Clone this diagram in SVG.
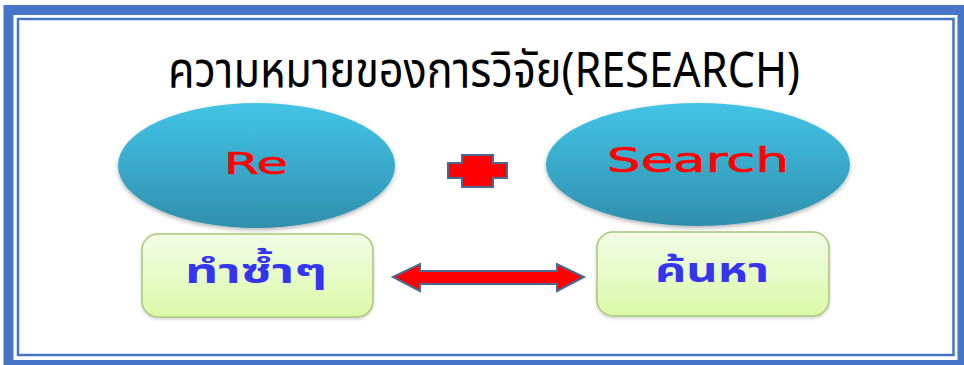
<svg xmlns="http://www.w3.org/2000/svg" width="964" height="365" viewBox="0 0 964 365">
<defs>
<linearGradient id="gEll" x1="0" y1="0" x2="0" y2="1">
<stop offset="0" stop-color="#44c4e6"/>
<stop offset="0.5" stop-color="#39aacb"/>
<stop offset="1" stop-color="#2f8fab"/>
</linearGradient>
<linearGradient id="gBox" x1="0" y1="0" x2="0" y2="1">
<stop offset="0" stop-color="#f3fde6"/>
<stop offset="1" stop-color="#daf9a8"/>
</linearGradient>
<filter id="shadow" x="-10%" y="-10%" width="120%" height="130%">
<feDropShadow dx="0" dy="2" stdDeviation="2" flood-color="#000" flood-opacity="0.3"/>
</filter>
<filter id="bshadow" x="-10%" y="-10%" width="120%" height="130%">
<feDropShadow dx="0" dy="1.5" stdDeviation="1.5" flood-color="#000" flood-opacity="0.2"/>
</filter>
</defs>
<style>
.ell{fill:url(#gEll);filter:url(#shadow)}
.box{fill:url(#gBox);stroke:#a9c77a;stroke-width:1.5;filter:url(#bshadow)}
.eng{font-family:"DejaVu Sans","Liberation Sans",sans-serif;fill:#ff0000;stroke:#ff0000;stroke-width:0.6;text-anchor:middle}
.thai{font-family:"Noto Sans Thai","Noto Sans","DejaVu Sans",sans-serif;font-weight:bold;fill:#3535f0;text-anchor:middle}
.title{font-family:"Noto Sans Thai","Noto Sans","Open Sans",sans-serif;fill:#000;text-anchor:middle}
.red{fill:#ff0000;stroke:#4a6890;stroke-width:2}
</style>
<rect width="964" height="365" fill="#fff"/>
<g id="frame">
<rect x="8.5" y="10" width="954" height="355" fill="none" stroke="#4674c6" stroke-width="10"/>
<rect x="18" y="19" width="935.5" height="336" fill="none" stroke="#4674c6" stroke-width="2.5"/>
</g>
<g id="title">
<text class="title" x="484" y="87" font-size="50" textLength="632" lengthAdjust="spacingAndGlyphs">ความหมายของการวิจัย(RESEARCH)</text>
</g>
<g id="node-re">
<ellipse class="ell" cx="256.5" cy="165.5" rx="138.5" ry="62.5"/>
<text class="eng" x="256" y="174" font-size="31" textLength="64" lengthAdjust="spacingAndGlyphs">Re</text>
</g>
<g id="plus">
<polygon class="red" points="462,155 493,155 493,163 507,163 507,178 493,178 493,187 462,187 462,178 448,178 448,163 462,163"/>
</g>
<g id="node-search">
<ellipse class="ell" cx="698" cy="164.5" rx="152" ry="61.5"/>
<text class="eng" x="698" y="172" font-size="33" textLength="182" lengthAdjust="spacingAndGlyphs">Search</text>
</g>
<g id="node-repeat">
<rect class="box" x="142" y="234" width="231" height="83" rx="16"/>
<text class="thai" x="256" y="283" font-size="34" textLength="142" lengthAdjust="spacingAndGlyphs">ทำซ้ำๆ</text>
</g>
<g id="node-find">
<rect class="box" x="597" y="232" width="232" height="84" rx="16"/>
<text class="thai" x="712" y="282" font-size="34" textLength="114" lengthAdjust="spacingAndGlyphs">ค้นหา</text>
</g>
<g id="connectors">
<polygon class="red" points="393,277 420,264 420,271 557,271 557,264 584,277 557,291 557,284 420,284 420,291"/>
</g>
</svg>
